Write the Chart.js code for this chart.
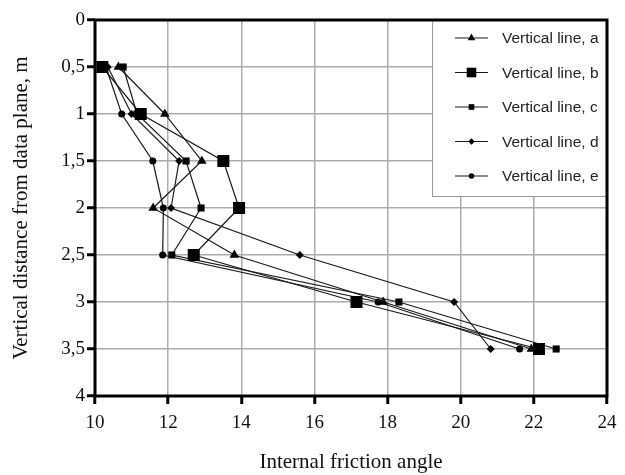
<!DOCTYPE html>
<html>
<head>
<meta charset="utf-8">
<script src="https://cdn.jsdelivr.net/npm/chart.js@4"></script>
<style>
  html, body { margin: 0; padding: 0; background: #fff; }
  #wrap { width: 625px; height: 475px; }
</style>
</head>
<body>
<div id="wrap"><canvas id="chart" width="625" height="475"></canvas></div>
<script>
// depth below the data plane, m
var depths = [0.5, 1, 1.5, 2, 2.5, 3, 3.5];

// internal friction angle per vertical line
var lineA = [10.64, 11.91, 12.92, 11.59, 13.81, 17.88, 21.93];
var lineB = [10.20, 11.25, 13.51, 13.94, 12.70, 17.15, 22.14];
var lineC = [10.77, 11.15, 12.49, 12.90, 12.10, 18.31, 22.61];
var lineD = [10.35, 11.00, 12.30, 12.08, 15.60, 19.82, 20.82];
var lineE = [10.30, 10.73, 11.58, 11.87, 11.85, 17.74, 21.61];

var seriesNames = ['Vertical line, a', 'Vertical line, b', 'Vertical line, c', 'Vertical line, d', 'Vertical line, e'];
var xTicks = [10, 12, 14, 16, 18, 20, 22, 24];
var yTicks = [0, 0.5, 1, 1.5, 2, 2.5, 3, 3.5, 4];

function toPoints(values) {
    return values.map(function (v, i) { return { x: v, y: depths[i] }; });
}

var markers = [
    { style: 'triangle', radius: 5.5 },
    { style: 'rect', radius: 8.5 },
    { style: 'rect', radius: 5 },
    { style: 'rectRot', radius: 4 },
    { style: 'circle', radius: 3.5 }
];

var allSeries = [lineA, lineB, lineC, lineD, lineE];

var datasets = allSeries.map(function (vals, i) {
    return {
        label: seriesNames[i],
        data: toPoints(vals),
        showLine: true,
        borderColor: '#1a1a1a',
        borderWidth: 1.2,
        backgroundColor: '#000',
        pointStyle: markers[i].style,
        pointRadius: markers[i].radius,
        pointBorderWidth: 0,
        pointBackgroundColor: '#000'
    };
});

// legend box in the top right corner, plus the black frame
var framePlugin = {
    id: 'frame',
    afterDatasetsDraw: function (chart) {
        var ctx = chart.ctx;
        var area = chart.chartArea;
        var left = 432, top = area.top, right = area.right, bottom = 196;
        ctx.save();
        ctx.fillStyle = '#fff';
        ctx.fillRect(left, top, right - left, bottom - top);
        ctx.strokeStyle = '#9a9a9a';
        ctx.lineWidth = 1;
        ctx.strokeRect(left + 0.5, top, right - left, bottom - top + 0.5);

        ctx.font = '15.5px "Liberation Sans", Arial, sans-serif';
        ctx.textBaseline = 'middle';
        ctx.textAlign = 'left';
        chart.data.datasets.forEach(function (ds, i) {
            var y = 38 + i * 34.5;
            ctx.strokeStyle = '#1a1a1a';
            ctx.lineWidth = 1.2;
            ctx.beginPath();
            ctx.moveTo(455, y);
            ctx.lineTo(488, y);
            ctx.stroke();
            ctx.fillStyle = '#000';
            Chart.helpers.drawPoint(ctx, {
                pointStyle: ds.pointStyle,
                radius: ds.pointRadius * 0.8,
                borderWidth: 0
            }, 471.5, y);
            ctx.fillStyle = '#222';
            ctx.fillText(ds.label, 502, y + 1);
        });
        ctx.restore();
    },
    afterDraw: function (chart) {
        var ctx = chart.ctx;
        var a = chart.chartArea;
        ctx.save();
        ctx.strokeStyle = '#000';
        ctx.lineWidth = 3;
        ctx.strokeRect(a.left, a.top, a.right - a.left, a.bottom - a.top);
        ctx.restore();
    }
};

var serif = '"Liberation Serif", "Times New Roman", serif';

new Chart(document.getElementById('chart').getContext('2d'), {
    type: 'scatter',
    data: { datasets: datasets },
    plugins: [framePlugin],
    options: {
        responsive: false,
        animation: false,
        layout: { padding: { left: 0, top: 20, right: 18, bottom: 0 } },
        plugins: {
            legend: { display: false },
            tooltip: { enabled: false }
        },
        scales: {
            x: {
                type: 'linear',
                min: xTicks[0],
                max: xTicks[xTicks.length - 1],
                afterBuildTicks: function (scale) {
                    scale.ticks = xTicks.map(function (v) { return { value: v }; });
                },
                afterFit: function (scale) { scale.height = 79; },
                grid: { color: '#ababab', lineWidth: 1.5, tickColor: '#000', tickLength: 8, tickWidth: 3 },
                border: { display: false },
                ticks: { color: '#111', padding: 8, maxRotation: 0, font: { family: serif, size: 19 } },
                title: {
                    display: true,
                    text: 'Internal friction angle',
                    color: '#111',
                    padding: { top: 0, bottom: 0 },
                    font: { family: serif, size: 21 }
                }
            },
            y: {
                type: 'linear',
                reverse: true,
                min: yTicks[0],
                max: yTicks[yTicks.length - 1],
                afterBuildTicks: function (scale) {
                    scale.ticks = yTicks.map(function (v) { return { value: v }; });
                },
                afterFit: function (scale) { scale.width = 95; },
                grid: { color: '#ababab', lineWidth: 1.5, tickColor: '#000', tickLength: 8, tickWidth: 3 },
                border: { display: false },
                ticks: {
                    color: '#111',
                    padding: 2,
                    font: { family: serif, size: 19 },
                    callback: function (v) { return String(v).replace('.', ','); }
                },
                title: {
                    display: true,
                    text: 'Vertical distance from data plane, m',
                    color: '#111',
                    padding: { top: 9, bottom: 0 },
                    font: { family: serif, size: 21 }
                }
            }
        }
    }
});
</script>
</body>
</html>
